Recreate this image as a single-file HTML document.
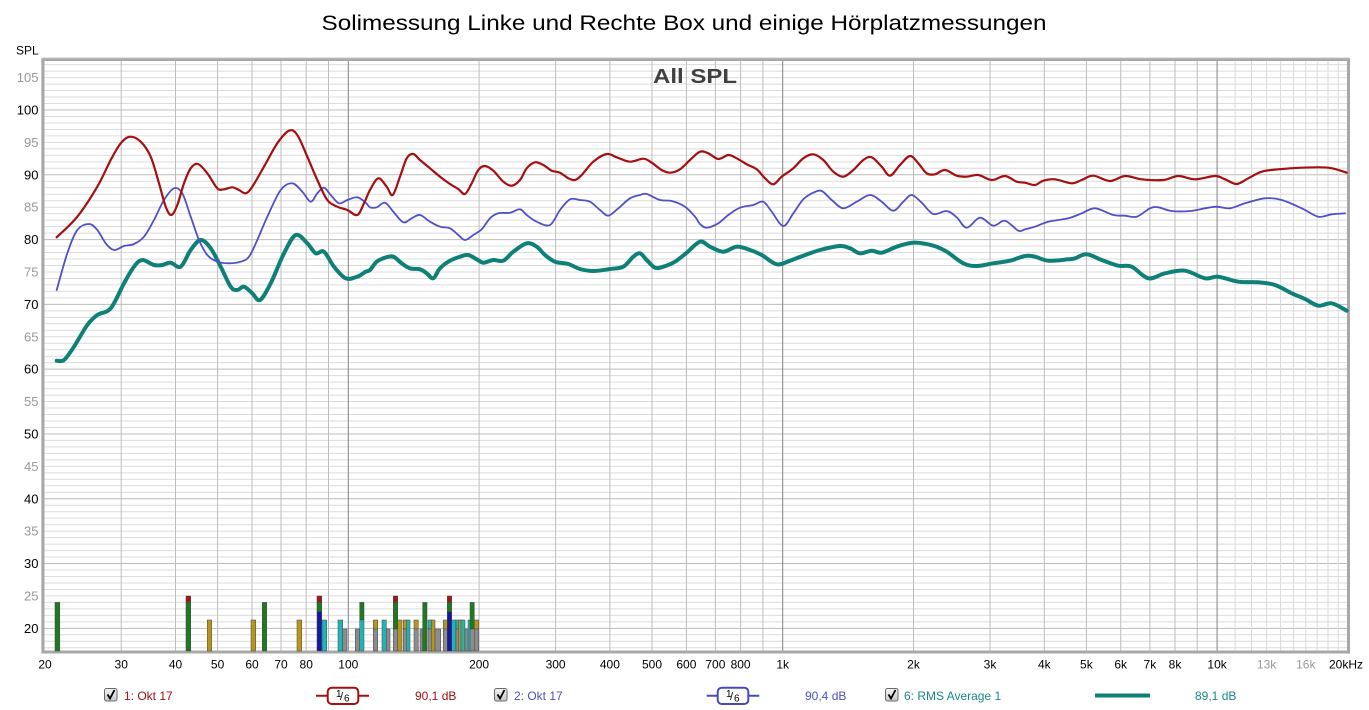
<!DOCTYPE html>
<html><head><meta charset="utf-8"><style>
html,body{margin:0;padding:0;background:#fff;}
svg{display:block;}
text{font-family:"Liberation Sans",Arial,sans-serif;}
</style></head><body>
<svg id="chart" width="1369" height="710" viewBox="0 0 1369 710" xmlns="http://www.w3.org/2000/svg">
<rect x="0" y="0" width="1369" height="710" fill="#fff"/>
<text x="684" y="30" font-size="21" text-anchor="middle" textLength="725" lengthAdjust="spacingAndGlyphs" fill="#000">Solimessung Linke und Rechte Box und einige Hörplatzmessungen</text>
<text x="16" y="54.5" font-size="12" fill="#000">SPL</text>

<!-- horizontal 1 dB grid -->
<path stroke="#dcdcdc" stroke-width="1" fill="none" d="M44 64.65H1347M44 71.13H1347M44 77.6H1347M44 84.08H1347M44 90.56H1347M44 97.04H1347M44 103.52H1347M44 116.48H1347M44 122.96H1347M44 129.44H1347M44 135.92H1347M44 142.4H1347M44 148.87H1347M44 155.35H1347M44 161.83H1347M44 168.31H1347M44 181.27H1347M44 187.75H1347M44 194.23H1347M44 200.71H1347M44 207.19H1347M44 213.66H1347M44 220.14H1347M44 226.62H1347M44 233.1H1347M44 246.06H1347M44 252.54H1347M44 259.02H1347M44 265.5H1347M44 271.98H1347M44 278.45H1347M44 284.93H1347M44 291.41H1347M44 297.89H1347M44 310.85H1347M44 317.33H1347M44 323.81H1347M44 330.29H1347M44 336.77H1347M44 343.24H1347M44 349.72H1347M44 356.2H1347M44 362.68H1347M44 375.64H1347M44 382.12H1347M44 388.6H1347M44 395.08H1347M44 401.56H1347M44 408.03H1347M44 414.51H1347M44 420.99H1347M44 427.47H1347M44 440.43H1347M44 446.91H1347M44 453.39H1347M44 459.87H1347M44 466.35H1347M44 472.82H1347M44 479.3H1347M44 485.78H1347M44 492.26H1347M44 505.22H1347M44 511.7H1347M44 518.18H1347M44 524.66H1347M44 531.14H1347M44 537.61H1347M44 544.09H1347M44 550.57H1347M44 557.05H1347M44 570.01H1347M44 576.49H1347M44 582.97H1347M44 589.45H1347M44 595.93H1347M44 602.4H1347M44 608.88H1347M44 615.36H1347M44 621.84H1347M44 634.8H1347M44 641.28H1347M44 647.76H1347"/>
<!-- 10 dB grid -->
<path stroke="#bcbcbc" stroke-width="1" fill="none" d="M44 110H1347M44 174.79H1347M44 239.58H1347M44 304.37H1347M44 369.16H1347M44 433.95H1347M44 498.74H1347M44 563.53H1347M44 628.32H1347"/>
<!-- vertical light (11k-19k) -->
<path stroke="#dadada" stroke-width="1" fill="none" d="M1235.1 61V651M1251.5 61V651M1266.6 61V651M1280.6 61V651M1293.6 61V651M1305.8 61V651M1317.2 61V651M1328 61V651M1338.2 61V651"/>
<!-- vertical normal -->
<path stroke="#bdbdbd" stroke-width="1" fill="none" d="M121.2 61V651M175.5 61V651M217.6 61V651M252 61V651M281 61V651M306.2 61V651M328.5 61V651M479.1 61V651M555.6 61V651M609.9 61V651M652 61V651M686.4 61V651M715.4 61V651M740.6 61V651M762.9 61V651M913.5 61V651M990 61V651M1044.3 61V651M1086.4 61V651M1120.7 61V651M1149.9 61V651M1175 61V651M1197.2 61V651"/>
<!-- decades -->
<path stroke="#828282" stroke-width="1" fill="none" d="M348.3 61V651M782.7 61V651M1217.1 61V651"/>

<!-- frame -->
<rect x="43" y="59.5" width="1305.5" height="592.5" fill="none" stroke="#a8a8a8" stroke-width="3"/>
<line x1="41.5" y1="58" x2="1350" y2="58" stroke="#c8c8c8" stroke-width="1"/>
<line x1="41.5" y1="58" x2="41.5" y2="653" stroke="#c8c8c8" stroke-width="1"/>

<text x="695" y="83" font-size="20" font-weight="bold" text-anchor="middle" fill="#404040" textLength="84" lengthAdjust="spacingAndGlyphs">All SPL</text>

<!-- Y labels -->
<g font-size="13" text-anchor="end">
<text x="38.5" y="82" fill="#999">105</text>
<text x="38.5" y="114.5" fill="#000">100</text>
<text x="38.5" y="147" fill="#999">95</text>
<text x="38.5" y="179.3" fill="#000">90</text>
<text x="38.5" y="211.7" fill="#999">85</text>
<text x="38.5" y="244.1" fill="#000">80</text>
<text x="38.5" y="276.5" fill="#999">75</text>
<text x="38.5" y="308.9" fill="#000">70</text>
<text x="38.5" y="341.3" fill="#999">65</text>
<text x="38.5" y="373.7" fill="#000">60</text>
<text x="38.5" y="406.1" fill="#999">55</text>
<text x="38.5" y="438.5" fill="#000">50</text>
<text x="38.5" y="470.9" fill="#999">45</text>
<text x="38.5" y="503.3" fill="#000">40</text>
<text x="38.5" y="535.7" fill="#999">35</text>
<text x="38.5" y="568" fill="#000">30</text>
<text x="38.5" y="600.4" fill="#999">25</text>
<text x="38.5" y="632.8" fill="#000">20</text>
</g>

<!-- X labels -->
<g font-size="12" text-anchor="middle" fill="#000">
<text x="45" y="668.5">20</text>
<text x="121.2" y="668.5">30</text>
<text x="175.5" y="668.5">40</text>
<text x="217.6" y="668.5">50</text>
<text x="252" y="668.5">60</text>
<text x="281" y="668.5">70</text>
<text x="306.2" y="668.5">80</text>
<text x="348.3" y="668.5">100</text>
<text x="479.1" y="668.5">200</text>
<text x="555.6" y="668.5">300</text>
<text x="609.9" y="668.5">400</text>
<text x="652" y="668.5">500</text>
<text x="686.4" y="668.5">600</text>
<text x="715.4" y="668.5">700</text>
<text x="740.6" y="668.5">800</text>
<text x="782.7" y="668.5">1k</text>
<text x="913.5" y="668.5">2k</text>
<text x="990" y="668.5">3k</text>
<text x="1044.3" y="668.5">4k</text>
<text x="1086.4" y="668.5">5k</text>
<text x="1120.7" y="668.5">6k</text>
<text x="1149.9" y="668.5">7k</text>
<text x="1175" y="668.5">8k</text>
<text x="1217.1" y="668.5">10k</text>
<text x="1266.6" y="668.5" fill="#999">13k</text>
<text x="1305.8" y="668.5" fill="#999">16k</text>
<text x="1346" y="668.5">20kHz</text>
</g>

<!-- bars -->
<g stroke="#444" stroke-width="0.5">
<rect x="55" y="602.4" width="4.8" height="48.6" fill="#1e7a1e"/>
<rect x="186" y="596" width="4.7" height="6.4" fill="#a01818"/><rect x="186" y="602.4" width="4.7" height="48.6" fill="#1e7a1e"/>
<rect x="207.3" y="620" width="4.4" height="31" fill="#b8961e"/>
<rect x="251" y="620" width="4.7" height="31" fill="#b8961e"/>
<rect x="262.3" y="602.4" width="4.4" height="48.6" fill="#1e7a1e"/>
<rect x="297" y="620" width="4.7" height="31" fill="#b8961e"/>
<rect x="317" y="596" width="4.7" height="6.4" fill="#a01818"/><rect x="317" y="602.4" width="4.7" height="9.3" fill="#1e7a1e"/><rect x="317" y="611.7" width="4.7" height="39.3" fill="#1818a0"/>
<rect x="322" y="620" width="4.7" height="31" fill="#20b4b4"/>
<rect x="338" y="620" width="4.7" height="31" fill="#20b4b4"/>
<rect x="342.7" y="629" width="4.3" height="22" fill="#8c8c8c"/>
<rect x="355.3" y="629" width="4.4" height="22" fill="#8c8c8c"/>
<rect x="359.7" y="602.4" width="4.3" height="17.6" fill="#1e7a1e"/><rect x="359.7" y="620" width="4.3" height="31" fill="#20b4b4"/>
<rect x="373.3" y="620" width="4.4" height="9" fill="#b8961e"/><rect x="373.3" y="629" width="4.4" height="22" fill="#8c8c8c"/>
<rect x="382" y="620" width="4.3" height="31" fill="#20b4b4"/>
<rect x="386.3" y="629" width="3.7" height="22" fill="#8c8c8c"/>
<rect x="393.3" y="596" width="4.4" height="6.4" fill="#a01818"/><rect x="393.3" y="602.4" width="4.4" height="26.6" fill="#1e7a1e"/><rect x="393.3" y="629" width="4.4" height="22" fill="#8c8c8c"/>
<rect x="397.7" y="620" width="4.3" height="31" fill="#b8961e"/>
<rect x="403.3" y="620" width="4" height="9" fill="#b8961e"/><rect x="403.3" y="629" width="4" height="22" fill="#8c8c8c"/>
<rect x="406.5" y="620" width="3.5" height="31" fill="#20b4b4"/>
<rect x="414" y="620" width="4.3" height="9" fill="#b8961e"/><rect x="414" y="629" width="4.3" height="22" fill="#8c8c8c"/>
<rect x="420" y="629" width="2.7" height="22" fill="#8c8c8c"/>
<rect x="422.7" y="602.4" width="4.3" height="48.6" fill="#1e7a1e"/>
<rect x="428" y="620" width="4" height="9" fill="#20b4b4"/><rect x="428" y="629" width="4" height="22" fill="#8c8c8c"/>
<rect x="431.3" y="620" width="3.7" height="31" fill="#b8961e"/>
<rect x="435" y="629" width="5.7" height="22" fill="#8c8c8c"/>
<rect x="443.3" y="620" width="4" height="9" fill="#b8961e"/><rect x="443.3" y="629" width="4" height="22" fill="#8c8c8c"/>
<rect x="447.3" y="596" width="4.4" height="6.4" fill="#a01818"/><rect x="447.3" y="602.4" width="4.4" height="9.3" fill="#1e7a1e"/><rect x="447.3" y="611.7" width="4.4" height="39.3" fill="#1818a0"/>
<rect x="451.7" y="620" width="4.3" height="31" fill="#20b4b4"/>
<rect x="456" y="620" width="4" height="9" fill="#20b4b4"/><rect x="456" y="629" width="4" height="22" fill="#8c8c8c"/>
<rect x="458.5" y="620" width="4" height="31" fill="#b8961e"/>
<rect x="461" y="620" width="4" height="31" fill="#20b4b4"/>
<rect x="465" y="629" width="3.3" height="22" fill="#8c8c8c"/>
<rect x="468" y="620" width="3" height="31" fill="#20b4b4"/>
<rect x="470" y="602.4" width="4.3" height="26.6" fill="#1e7a1e"/><rect x="470" y="629" width="4.3" height="22" fill="#8c8c8c"/>
<rect x="474.3" y="620" width="4.4" height="9" fill="#b8961e"/><rect x="474.3" y="629" width="4.4" height="22" fill="#8c8c8c"/>
</g>

<!-- curves -->
<g fill="none" stroke-linejoin="round" stroke-linecap="round">
<polyline class="s" stroke="#0f8078" stroke-width="4" points="56.7,360.7 64,360 74,346.7 87.3,325 97.3,315 110.7,308.3 124,283.3 134,266.7 142.3,260 154,265 162.3,265 170.7,262.7 180.7,266.7 190.7,250 200.7,240 210.7,248.3 220.7,266.7 230.7,286.7 237.3,290 244,286.7 252.3,293.3 260,300 270.7,283.3 284,253.3 295.7,235 307.3,243.3 315.7,253.3 324,251.7 334,266.7 345.7,278.3 357.3,276.7 365.7,271.7 370,270 376.7,261.7 385,257.7 393.3,256.7 401.7,263.3 410,268.3 420,269.3 426.7,273.3 433.3,278.3 440,268.3 450,260.7 460,256.7 468.3,255 476.7,259.3 483.3,262.7 493.3,260 503.3,260.7 513.3,251.7 526.7,243.3 536.7,246.7 545,255 555,261.7 568.3,264 580,269 593.3,271 610,269 623.3,266.7 633.3,256.7 640,253.3 646.7,260 655,267.7 663.3,266.7 675,261.7 686.7,252.7 700,241.7 710,246.7 723.3,251.7 736.7,246.7 750,250 761.7,255 776.7,264.3 790,260.7 803.3,255.7 820,250 840,246 850,248.3 860,253.3 871.7,250.7 881.7,252.7 896.7,246.7 913.3,242.7 933.3,245.7 946.7,251.7 963.3,263.3 976.7,266 993.3,263.3 1010,260.7 1025,256 1035,256.7 1048.3,260.7 1068.3,259.3 1075,258.3 1086.7,254.3 1101.7,260 1118.3,265.7 1131.7,266.7 1148.3,278.3 1165,273.3 1185,270.7 1205,278.3 1218.3,276.7 1238.3,281.7 1258.3,282.3 1275,285 1291.7,293.3 1305,299 1318.3,305.7 1331.7,303.3 1346.7,310.7"/>
<polyline class="s" stroke="#5050c8" stroke-width="1.8" points="56.7,290 67.3,253.3 77.3,230 89,224 97.3,230 105.7,243.3 114,250 124,246 134,244 144,236.7 154,220 164,200 174,188.3 182.3,193.3 190.7,216.7 199,240 207.3,255 217.3,261.7 229,263.3 240.7,261.7 249,256.7 257.3,240 267.3,216.7 280.7,190 292.3,183.3 302.3,191.7 310.7,201.7 317.3,193.3 324,187.7 330.7,195 339,203.3 347.3,200 357.3,197.3 365.7,202.7 370,207.3 376.7,207.3 385,202.7 393.3,211.7 403.3,222.3 411.7,218.3 420,215 430,221.7 440,226.7 450,228.3 458.3,235 465,240 473.3,235 481.7,229.3 490,218.3 498.3,213.3 510,212.7 520,209.3 526.7,215 536.7,221.7 550,225 560,210 570,199.3 580,200 590,201.7 600,210 608.3,215.7 618.3,208.3 630,198.3 640,195 646.7,194 660,200 671.7,201 685,206.7 695,216.7 700,224 706.7,227.7 718.3,223.3 728.3,215 740,207.7 753.3,205 763.3,201.7 771.7,211.7 783.3,226 793.3,213.3 803.3,199.3 813.3,192.7 821.7,191 831.7,200 843.3,208.3 856.7,201.7 870,195 881.7,201.7 893.3,210.7 903.3,201.7 911.7,195 921.7,202.7 933.3,214 946.7,211 956.7,217.3 966.7,227.7 980,217.7 993.3,225.7 1005,220.7 1018.3,230.7 1025,229.3 1035,226.7 1048.3,221.7 1068.3,218.3 1081.7,213.3 1095,208.3 1113.3,215 1125,215.7 1136.7,216.7 1150,208.3 1158.3,207.3 1171.7,211 1190,211 1205,208.3 1216.7,206.7 1230,208.3 1245,203.3 1265,198.3 1281.7,200 1301.7,208.3 1318.3,216.7 1331.7,214.3 1345,213.3"/>
<polyline class="s" stroke="#a50f0f" stroke-width="2.2" points="56.7,237.3 77.3,216.7 97.3,186.7 110.7,160 120.7,143.3 130,136.7 140.7,141.7 150.7,156.7 159,183.3 165.7,206.7 171.3,215 177.3,205 184,183.3 190.7,168.3 198,164 207.3,173.3 217.3,188.3 224,189.3 232.3,187.3 239,190 245.7,193.3 252.3,186.7 264,166.7 277.3,143.3 289,130.7 297.3,135 307.3,156.7 317.3,180 327.3,200 337.3,206.7 347.3,210 357.3,215 364,203.3 370,190 378.3,178.3 386.7,186.7 392.7,195 400,176.7 406.7,158.3 413.3,154 420,160 430,168.3 440,176.7 450,184 458.3,189 465,194 471.7,183.3 478.3,170 485,166 493.3,170.7 503.3,181.7 511.7,185.7 520,180 526.7,168.3 535,162.3 543.3,165 551.7,170.7 560,172.7 568.3,178.3 575,180 581.7,175 593.3,161.7 606.7,154 616.7,157.3 630,161.7 643.3,158.7 651.7,162.7 661.7,170 670,172.7 680,169.3 690,160 700,151.7 708.3,153.3 718.3,159 728.3,155 736.7,158.3 746.7,164.3 756.7,169.3 765,178.3 773.3,184.3 781.7,176.7 793.3,168.3 803.3,158.3 813.3,154.3 823.3,160 833.3,171.7 843.3,176.7 853.3,170 863.3,160 871.7,157.3 881.7,166.7 890,175.7 900,165 910,156 918.3,163.3 926.7,173.3 935,174.3 945,170 956.7,175.7 966.7,176.7 978.3,175 991.7,180 1005,176 1016.7,181.7 1025,182.7 1035,185 1043.3,180.7 1055,179.3 1071.7,183.3 1081.7,180 1093.3,175.7 1110,181 1125,176 1141.7,179.3 1163.3,180 1178.3,176 1195,179.3 1215,176 1225,179.3 1236.7,184 1248.3,178.3 1261.7,171.7 1278.3,169.3 1301.7,167.7 1328.3,167.7 1346.7,172.7"/>
</g>

<!-- legend -->
<defs>
<linearGradient id="cb" x1="0" y1="0" x2="0" y2="1"><stop offset="0" stop-color="#f4f4f4"/><stop offset="1" stop-color="#c8c8c8"/></linearGradient>
</defs>
<g>
<rect x="104.5" y="688.5" width="12.5" height="12.5" rx="2" fill="url(#cb)" stroke="#6a6a6a" stroke-width="1"/>
<path d="M107.5 694.5 L110 698.5 L114.5 690" fill="none" stroke="#000" stroke-width="1.8"/>
<text x="124" y="700" font-size="12" fill="#a01010">1: Okt 17</text>
<line x1="316" y1="695.8" x2="369" y2="695.8" stroke="#a50f0f" stroke-width="2"/>
<rect x="327.7" y="687.7" width="30.6" height="16.3" rx="4" fill="#fff" stroke="#a50f0f" stroke-width="2"/>
<text x="336" y="697" font-size="10" fill="#000">1</text><text x="340" y="700" font-size="11" fill="#000">/</text><text x="344" y="701.5" font-size="10" fill="#000">6</text>
<text x="415" y="700" font-size="12" fill="#a01010">90,1 dB</text>

<rect x="494.5" y="688.5" width="12.5" height="12.5" rx="2" fill="url(#cb)" stroke="#6a6a6a" stroke-width="1"/>
<path d="M497.5 694.5 L500 698.5 L504.5 690" fill="none" stroke="#000" stroke-width="1.8"/>
<text x="514" y="700" font-size="12" fill="#5050c0">2: Okt 17</text>
<line x1="706.7" y1="695.8" x2="759.3" y2="695.8" stroke="#4848c0" stroke-width="2"/>
<rect x="717.7" y="687.7" width="30.6" height="16.3" rx="4" fill="#fff" stroke="#4848c0" stroke-width="2"/>
<text x="726" y="697" font-size="10" fill="#000">1</text><text x="730" y="700" font-size="11" fill="#000">/</text><text x="734" y="701.5" font-size="10" fill="#000">6</text>
<text x="805" y="700" font-size="12" fill="#5050c0">90,4 dB</text>

<rect x="885.5" y="688.5" width="12.5" height="12.5" rx="2" fill="url(#cb)" stroke="#6a6a6a" stroke-width="1"/>
<path d="M888.5 694.5 L891 698.5 L895.5 690" fill="none" stroke="#000" stroke-width="1.8"/>
<text x="904" y="700" font-size="12" fill="#168a86">6: RMS Average 1</text>
<line x1="1095" y1="695.5" x2="1150" y2="695.5" stroke="#0f8078" stroke-width="4"/>
<text x="1195" y="700" font-size="12" fill="#168a86">89,1 dB</text>
</g>
</svg>
<script>
(function(){
  try{
    var ns="http://www.w3.org/2000/svg";
    var pls=document.querySelectorAll("polyline.s");
    for(var k=0;k<pls.length;k++){
      var pl=pls[k];
      var raw=pl.getAttribute("points").trim().split(/\s+/);
      var p=[];
      for(var i=0;i<raw.length;i++){var c=raw[i].split(",");p.push([+c[0],+c[1]]);}
      var d="M"+p[0][0]+" "+p[0][1];
      for(var i=0;i<p.length-1;i++){
        var p0=p[i>0?i-1:i],p1=p[i],p2=p[i+1],p3=p[i+2<p.length?i+2:i+1];
        var c1x=p1[0]+(p2[0]-p0[0])/6,c1y=p1[1]+(p2[1]-p0[1])/6;
        var c2x=p2[0]-(p3[0]-p1[0])/6,c2y=p2[1]-(p3[1]-p1[1])/6;
        d+="C"+c1x.toFixed(2)+" "+c1y.toFixed(2)+" "+c2x.toFixed(2)+" "+c2y.toFixed(2)+" "+p2[0]+" "+p2[1];
      }
      var path=document.createElementNS(ns,"path");
      path.setAttribute("d",d);
      path.setAttribute("stroke",pl.getAttribute("stroke"));
      path.setAttribute("stroke-width",pl.getAttribute("stroke-width"));
      path.setAttribute("fill","none");
      pl.parentNode.replaceChild(path,pl);
    }
  }catch(e){}
})();
</script>
</body></html>
